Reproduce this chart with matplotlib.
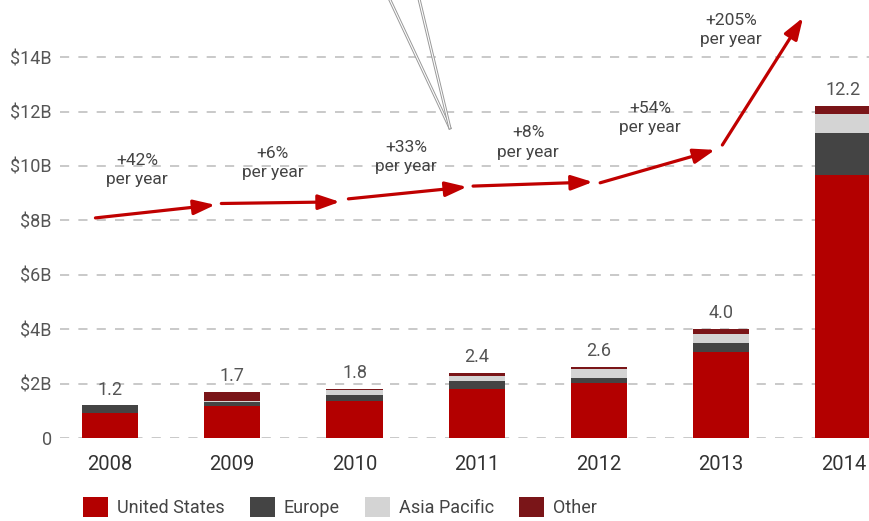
import numpy as np
import matplotlib.pyplot as plt
from matplotlib.patches import Patch

# ---- DATA ----
years = ['2008', '2009', '2010', '2011', '2012', '2013', '2014']
totals = [1.2, 1.7, 1.8, 2.4, 2.6, 4.0, 12.2]
us = [0.92, 1.17, 1.36, 1.80, 2.02, 3.16, 9.65]
europe = [0.28, 0.14, 0.22, 0.30, 0.18, 0.34, 1.55]
asia = [0.00, 0.05, 0.20, 0.18, 0.32, 0.32, 0.70]
other = [0.00, 0.34, 0.02, 0.12, 0.08, 0.18, 0.30]

growth = ['+42%', '+6%', '+33%', '+8%', '+54%', '+205%']
# growth label anchors (x in bar index, y in $B)
growth_x = [0.22, 1.33, 2.42, 3.42, 4.42, 5.08]
growth_y = [9.85, 10.11, 10.33, 10.85, 11.76, 15.0]

# arrow path pieces (x in bar index, y in $B)
arrow_x0 = [-0.12, 0.91, 1.95, 2.97, 4.01, 5.01]
arrow_y0 = [8.09, 8.62, 8.79, 9.26, 9.38, 10.77]
arrow_x1 = [0.86, 1.88, 2.92, 3.95, 4.95, 5.67]
arrow_y1 = [8.57, 8.68, 9.23, 9.41, 10.59, 15.45]

# pointer lines from top edge
ptr_x = [[2.29, 2.78], [2.53, 2.78]]
ptr_y = [[16.1, 11.4], [16.1, 11.4]]

C_US = '#b30000'
C_EU = '#444444'
C_AP = '#d4d4d4'
C_OT = '#7a1518'

plt.rcParams['font.family'] = ['Roboto', 'DejaVu Sans']

fig = plt.figure(figsize=(8.69, 5.21), dpi=100)
ax = fig.add_axes([60 / 869, 83 / 521, 809 / 869, 438 / 521])

x = np.arange(len(years))
w = 0.46
us_a = np.array(us)
eu_a = np.array(europe)
ap_a = np.array(asia)
ot_a = np.array(other)
ax.bar(x, us_a, w, color=C_US, zorder=3)
ax.bar(x, eu_a, w, bottom=us_a, color=C_EU, zorder=3)
ax.bar(x, ap_a, w, bottom=us_a + eu_a, color=C_AP, zorder=3)
ax.bar(x, ot_a, w, bottom=us_a + eu_a + ap_a, color=C_OT, zorder=3)

for xi, t in zip(x, totals):
    ax.text(xi, t + 0.25, f'{t:.1f}', ha='center', va='bottom',
            fontsize=13, color='#555555', zorder=4)

# growth arrows
for i in range(len(growth)):
    ax.annotate('', xy=(arrow_x1[i], arrow_y1[i]),
                xytext=(arrow_x0[i], arrow_y0[i]),
                arrowprops=dict(arrowstyle='-|>,head_length=1.3,head_width=0.45',
                                color='#c00000', lw=2.3,
                                mutation_scale=10, shrinkA=0, shrinkB=0),
                zorder=5)
    ax.text(growth_x[i], growth_y[i], growth[i] + '\nper year',
            ha='center', va='center', fontsize=12.5, color='#444444',
            linespacing=1.4, zorder=5)

for px, py in zip(ptr_x, ptr_y):
    ax.plot(px, py, color='#999999', lw=2.2, zorder=2, clip_on=False)
    ax.plot(px, py, color='white', lw=0.8, zorder=2, clip_on=False)

ax.set_xlim(-0.41, 6.21)
ax.set_ylim(0, 16.1)
ax.set_yticks([0, 2, 4, 6, 8, 10, 12, 14])
ax.set_yticklabels(['0', '$2B', '$4B', '$6B', '$8B', '$10B', '$12B', '$14B'],
                   fontsize=13, color='#555555')
ax.set_xticks(x)
ax.set_xticklabels(years, fontsize=14.5, color='#333333')
ax.tick_params(axis='both', length=0)
ax.tick_params(axis='y', pad=6)
ax.tick_params(axis='x', pad=12)
ax.yaxis.grid(True, color='#bbbbbb', linestyle=(0, (6, 6)), lw=1.1, zorder=0)
for s in ax.spines.values():
    s.set_visible(False)

handles = [Patch(facecolor=C_US), Patch(facecolor=C_EU),
           Patch(facecolor=C_AP), Patch(facecolor=C_OT)]
fig.legend(handles, ['United States', 'Europe', 'Asia Pacific', 'Other'],
           loc='center left', bbox_to_anchor=(83 / 869, 14 / 521), ncol=4,
           frameon=False, fontsize=13, labelcolor='#444444', borderpad=0,
           borderaxespad=0, handlelength=1.38, handleheight=1.4,
           columnspacing=1.4, handletextpad=0.5)

fig.savefig('out.png', dpi=100)
